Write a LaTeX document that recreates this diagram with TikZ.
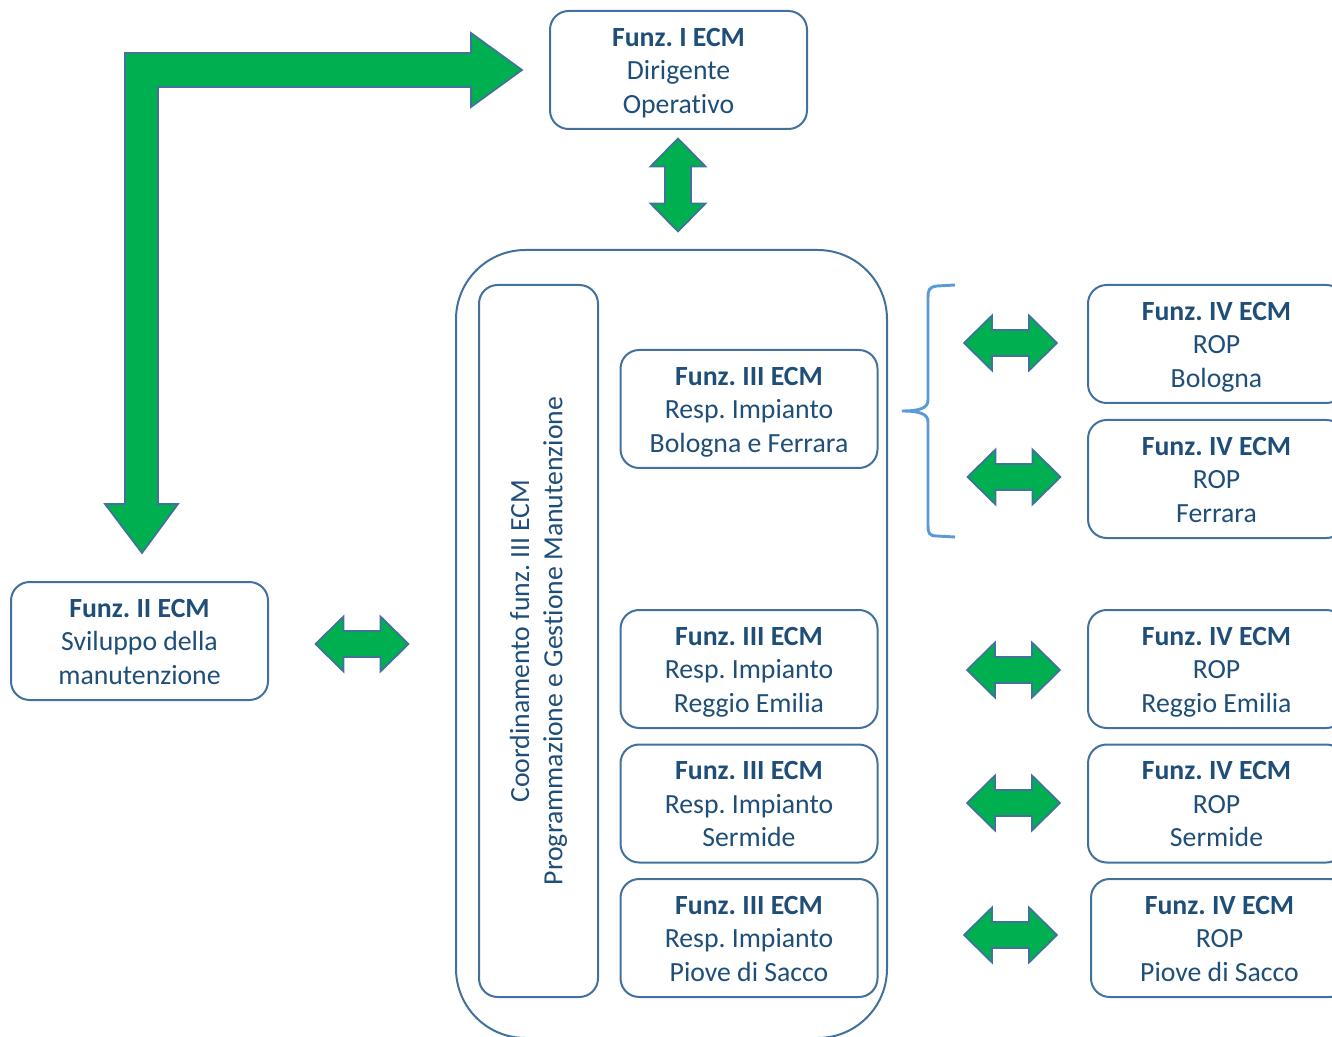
\documentclass[tikz,border=0pt]{standalone}
\usepackage{fontspec}
\setmainfont{Carlito}[Ligatures=NoCommon]
\usepackage{tikz}
\frenchspacing

\definecolor{txtblue}{HTML}{1F4E79}
\definecolor{linblue}{HTML}{41719C}
\definecolor{brblue}{HTML}{5B9BD5}
\definecolor{ecmgreen}{HTML}{00B050}

% riga di altezza fissa
\newcommand\lsr{\rule[-5pt]{0pt}{24.7pt}}
\newcommand\tre[3]{\textbf{#1}\lsr\\#2\lsr\\#3\lsr}

\tikzset{
  blk/.style={draw=linblue,line width=1.5pt,rounded corners=14pt,fill=white,
    text=txtblue,align=center,font=\fontsize{20.8}{25}\selectfont,
    minimum width=257*0.75pt,minimum height=118*0.75pt,inner sep=0pt},
  garrow/.style={draw=linblue,line width=1.3pt,fill=ecmgreen,line join=miter},
  dbl/.pic={\draw[garrow] (-46.5,0) -- (-18.5,-27.5) -- (-18.5,-13) -- (18.5,-13)
    -- (18.5,-27.5) -- (46.5,0) -- (18.5,27.5) -- (18.5,13) -- (-18.5,13)
    -- (-18.5,27.5) -- cycle;}
}

\begin{document}
\begin{tikzpicture}[x=0.75pt,y=-0.75pt]
\useasboundingbox (0,0) rectangle (1332,1037);

% grande cornice
\draw[linblue,line width=1.5pt,rounded corners=52pt] (456,250) rectangle (887,1038);

\node[blk] (fI) at (678.5,70) {\tre{Funz. I ECM}{Dirigente}{Operativo}};
\node[blk] (fII) at (139.5,641) {\tre{Funz. II ECM}{Sviluppo della}{manutenzione}};

\node[blk,rotate=90,minimum width=712*0.75pt,minimum height=119*0.75pt] (coord) at (538.5,641)
  {Coordinamento funz. III ECM\\Programmazione e Gestione Manutenzione};

\node[blk] (bo) at (749,409) {\tre{Funz. III ECM}{Resp. Impianto}{Bologna e Ferrara}};
\node[blk] (re) at (749,669) {\tre{Funz. III ECM}{Resp. Impianto}{Reggio Emilia}};
\node[blk] (se) at (749,803.5) {\tre{Funz. III ECM}{Resp. Impianto}{Sermide}};
\node[blk] (pi) at (749,938) {\tre{Funz. III ECM}{Resp. Impianto}{Piove di Sacco}};

\node[blk] (ropbo) at (1216.5,344) {\tre{Funz. IV ECM}{ROP}{Bologna}};
\node[blk] (ropfe) at (1216.5,479) {\tre{Funz. IV ECM}{ROP}{Ferrara}};
\node[blk] (ropre) at (1216.5,669) {\tre{Funz. IV ECM}{ROP}{Reggio Emilia}};
\node[blk] (ropse) at (1216.5,803.5) {\tre{Funz. IV ECM}{ROP}{Sermide}};
\node[blk] (roppi) at (1219.5,938) {\tre{Funz. IV ECM}{ROP}{Piove di Sacco}};

% freccia a L
\draw[garrow] (125,504) -- (105,504) -- (142,553) -- (178,504) -- (158,504) -- (158,87)
  -- (471,87) -- (471,107) -- (522,70) -- (471,33) -- (471,53) -- (125,53) -- cycle;

% frecce doppie
\pic[rotate=90] at (678,185) {dbl};
\pic at (362,644) {dbl};
\pic at (1010.5,343) {dbl};
\pic at (1014,477) {dbl};
\pic at (1013.5,670) {dbl};
\pic at (1013.5,803) {dbl};
\pic at (1010.5,935) {dbl};

% parentesi
\draw[brblue,line width=2.2pt] (955,285) -- (937,286) .. controls (929,287) and (928,290) .. (928,298)
  -- (928,400) .. controls (928,408) and (920,411) .. (902,411)
  .. controls (920,411) and (928,414) .. (928,422) -- (928,525)
  .. controls (928,533) and (929,536) .. (937,536) -- (955,537);
\end{tikzpicture}
\end{document}
